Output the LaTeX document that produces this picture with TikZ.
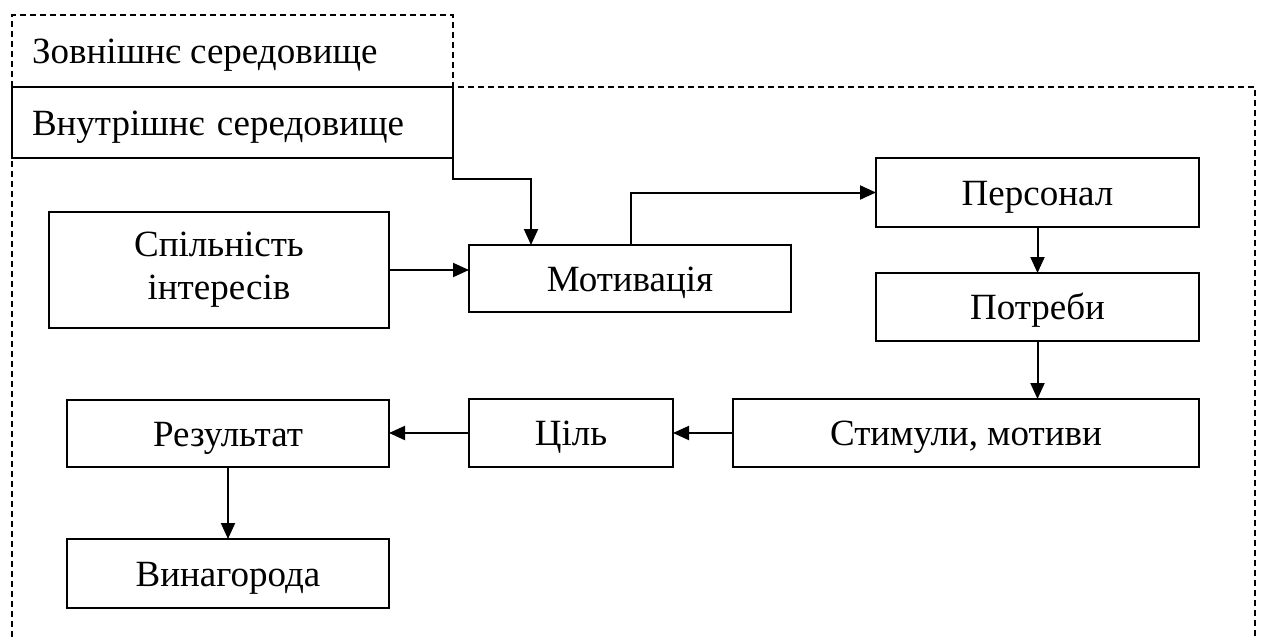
\documentclass[tikz,border=0pt]{standalone}
\usepackage{fontspec}
\setmainfont{Liberation Serif}
\usetikzlibrary{arrows.meta,calc}
\begin{document}
\begin{tikzpicture}[x=1pt,y=-1pt,
  font=\fontsize{37}{43}\selectfont,
  box/.style={draw,line width=1.8pt,anchor=north west,inner sep=0pt,outer sep=0pt},
  oneline/.style={text height=25pt,text depth=0pt},
  arr/.style={draw,line width=2pt,-{Triangle[length=16pt,width=14pt]}},
  env/.style={line width=1.3pt,dash pattern=on 6pt off 4pt}]
\useasboundingbox (0,0) rectangle (1261,637);
% environment outline
\draw[env] (12,637) -- (12,15) -- (453,15) -- (453,87) -- (1255,87) -- (1255,637);
\node[anchor=west,inner sep=0pt,oneline] (ext) at (32,51) {Зовнішнє середовище};
% boxes
\node[box,oneline,minimum width=441pt,minimum height=71pt,text width=401pt,align=left] (int) at (12,87) {Внутрішнє середовище};
\node[box,align=center,minimum width=340pt,minimum height=116pt] (sp) at (49,212) {Спільність\\інтересів};
\node[box,oneline,minimum width=322pt,minimum height=67pt] (mot) at (469,245) {Мотивація};
\node[box,oneline,minimum width=323pt,minimum height=69pt] (pers) at (876,158) {Персонал};
\node[box,oneline,minimum width=323pt,minimum height=68pt] (potr) at (876,273) {Потреби};
\node[box,oneline,minimum width=466pt,minimum height=68pt] (stym) at (733,399) {Стимули, мотиви};
\node[box,oneline,minimum width=204pt,minimum height=68pt] (cil) at (469,399) {Ціль};
\node[box,oneline,minimum width=322pt,minimum height=67pt] (rez) at (67,400) {Результат};
\node[box,oneline,minimum width=322pt,minimum height=69pt] (vyn) at (67,539) {Винагорода};
% connectors
\coordinate (k1) at (453,179);
\coordinate (k2) at (531,245);
\coordinate (k3) at (631,245);
\draw[arr] (int.south east) -- (k1) -| (k2);
\draw[arr] (sp.east) -- (sp.east -| mot.west);
\draw[arr] (k3) |- (pers.west);
\draw[arr] (pers.south) -- (potr.north);
\draw[arr] (potr.south) -- (potr.south |- stym.north);
\draw[arr] (stym.west) -- (cil.east);
\draw[arr] (cil.west) -- (cil.west -| rez.east);
\draw[arr] (rez.south) -- (vyn.north);
\end{tikzpicture}
\end{document}
